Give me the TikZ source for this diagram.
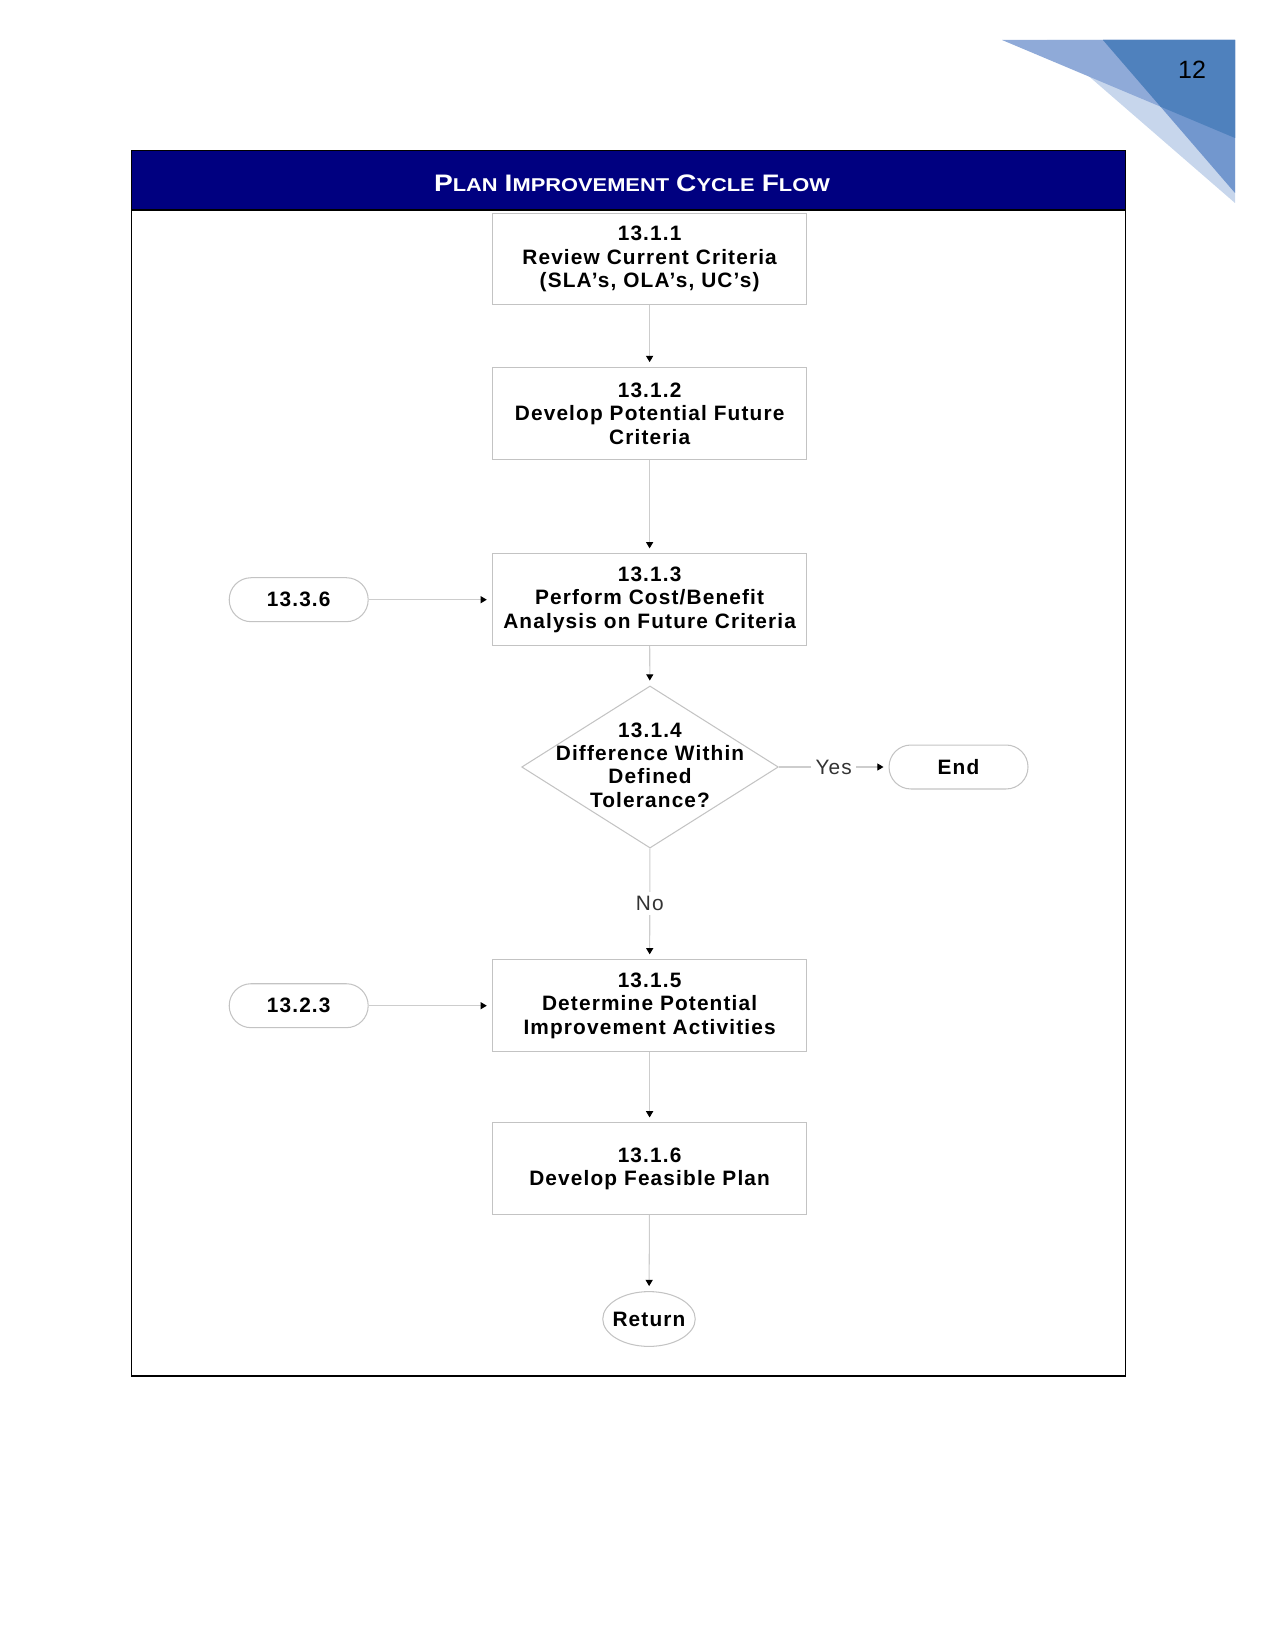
\documentclass[tikz,border=0pt]{standalone}
\usepackage{fontspec}
\setmainfont{Liberation Sans}
\newfontfamily\boxfont[LetterSpace=5.5]{Liberation Sans}
\usepackage{graphicx}
\usetikzlibrary{shapes.geometric,arrows.meta}

\definecolor{navybar}{RGB}{0,0,128}
\definecolor{boxgray}{RGB}{195,195,195}
\definecolor{linegray}{RGB}{205,205,205}
\definecolor{cornerA}{RGB}{143,170,216}
\definecolor{cornerB}{RGB}{199,214,236}
\definecolor{cornerC}{RGB}{114,151,206}
\definecolor{cornerD}{RGB}{79,129,189}

\tikzset{
  stepbox/.style={draw=boxgray, line width=0.5pt, minimum width=151pt, minimum height=44pt,
    align=center, font=\boxfont\fontsize{10pt}{11.2pt}\selectfont\bfseries, inner sep=0pt},
  termbox/.style={draw=boxgray, line width=0.5pt, rounded corners=10.5pt, minimum width=66.7pt,
    minimum height=21.1pt, font=\boxfont\fontsize{10pt}{11.2pt}\selectfont\bfseries},
  decbox/.style={diamond, draw=boxgray, line width=0.5pt, minimum width=123.2pt,
    minimum height=77.8pt, inner sep=0pt},
  dectext/.style={align=center, font=\boxfont\fontsize{10pt}{11.2pt}\selectfont\bfseries, inner sep=0pt},
  retbox/.style={ellipse, draw=boxgray, line width=0.5pt, minimum width=44.4pt,
    minimum height=26.3pt, inner sep=-2pt, font=\boxfont\fontsize{10pt}{11.2pt}\selectfont\bfseries},
  flow/.style={draw=linegray, line width=0.5pt, shorten >=2.4pt,
    -{Triangle[black, length=3pt, width=3.4pt]}},
  answer/.style={fill=white, inner sep=2pt, text=black!80, font=\boxfont\fontsize{10pt}{11.2pt}\selectfont}
}

\newcommand{\capsc}[2]{{\fontsize{11.2pt}{11.2pt}\selectfont #1}{\fontsize{8.7pt}{8.7pt}\selectfont #2}}

\begin{document}
\begin{tikzpicture}[x=0.48pt, y=-0.48pt]
  \useasboundingbox (0,0) rectangle (1275,1650);

  % corner decoration
  \fill[cornerB] (1047,40) -- (1235,40) -- (1235,203) -- cycle;
  \fill[cornerA] (1002,40) -- (1235,40) -- (1235,138) -- cycle;
  \fill[cornerC] (1103,40) -- (1235,40) -- (1235,193) -- cycle;
  \fill[cornerD] (1103,40) -- (1235,40) -- (1235,138) -- (1160.6,106.7) -- cycle;
  \node[font=\fontsize{12pt}{12pt}\selectfont] (pagenum) at (1192,70) {12};

  % frame and title bar
  \fill[navybar] (131.5,150.4) rectangle (1125.7,209.4);
  \draw[black, line width=0.7pt] (131.5,150.4) rectangle (1125.7,1376);
  \draw[black, line width=0.7pt] (131.5,210) -- (1125.7,210);
  \node[text=white, inner sep=0pt] (title) at (632,183)
    {\resizebox{190pt}{8pt}{\bfseries\capsc{P}{LAN} \capsc{I}{MPROVEMENT} \capsc{C}{YCLE} \capsc{F}{LOW}}};

  % steps
  \node[stepbox] (s1) at (649.6,259) {13.1.1\\Review Current Criteria\\(SLA’s, OLA’s, UC’s)};
  \node[stepbox] (s2) at (649.6,413.5) {13.1.2\\Develop Potential Future\\Criteria};
  \node[stepbox] (s3) at (649.6,599.7) {13.1.3\\Perform Cost/Benefit\\Analysis on Future Criteria};
  \node[decbox] (d4) at (650,767) {};
  \node[dectext] (d4text) at (650,765) {13.1.4\\Difference Within\\Defined\\Tolerance?};
  \node[stepbox] (s5) at (649.6,1005.7) {13.1.5\\Determine Potential\\Improvement Activities};
  \node[stepbox] (s6) at (649.6,1168.8) {13.1.6\\Develop Feasible Plan};
  \node[retbox] (ret) at (649,1319) {Return};

  % terminals
  \node[termbox] (t336) at (298.7,599.7) {13.3.6};
  \node[termbox] (t223) at (298.7,1005.7) {13.2.3};
  \node[termbox] (fin) at (958.5,767) {End};

  % connectors
  \draw[flow] (s1) -- (s2);
  \draw[flow] (s2) -- (s3);
  \draw[flow] (s3) -- (d4);
  \draw[flow] (d4) -- node[answer] (no) {No} (s5);
  \draw[flow] (d4) -- node[answer, pos=0.5] (yes) {Yes} (fin);
  \draw[flow] (s5) -- (s6);
  \draw[flow] (s6) -- (ret);
  \draw[flow] (t336) -- (s3);
  \draw[flow] (t223) -- (s5);
\end{tikzpicture}
\end{document}
